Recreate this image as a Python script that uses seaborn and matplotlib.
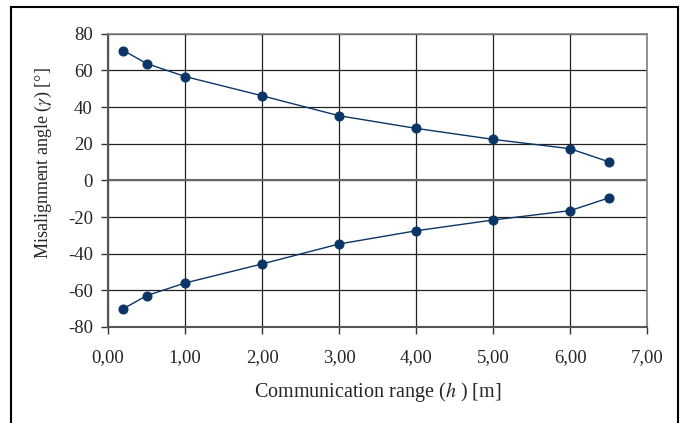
import matplotlib

matplotlib.use("Agg")

import matplotlib.pyplot as plt
import matplotlib.ticker as mticker
import pandas as pd
import seaborn as sns
from matplotlib.patches import Rectangle

# data
range_m = [0.2, 0.5, 1.0, 2.0, 3.0, 4.0, 5.0, 6.0, 6.5]
angle_upper = [70.9, 63.8, 56.7, 46.2, 35.3, 28.4, 22.4, 17.3, 10.2]
angle_lower = [-70.0, -62.9, -56.0, -45.6, -34.7, -27.5, -21.6, -16.5, -9.6]

LINE_COLOR = "#0b3566"
GRID_COLOR = "#222222"
FRAME_COLOR = "#808080"

sns.set_style("white")
plt.rcParams["font.family"] = ["Liberation Serif", "DejaVu Serif"]
plt.rcParams["mathtext.fontset"] = "stix"

df = pd.DataFrame({
    "range": range_m + range_m,
    "angle": angle_upper + angle_lower,
    "side": ["upper"] * len(range_m) + ["lower"] * len(range_m),
})

fig = plt.figure(figsize=(6.84, 4.23), dpi=100)
ax = fig.add_axes([0.158, 0.227, 0.788, 0.693])

sns.lineplot(data=df, x="range", y="angle", units="side", estimator=None,
             color=LINE_COLOR, linewidth=1.0, marker="o", markersize=6.5,
             markeredgecolor=LINE_COLOR, ax=ax, zorder=3)

ax.set_xlim(0, 7)
ax.set_ylim(-80, 80)
ax.xaxis.set_major_locator(mticker.MultipleLocator(1))
ax.yaxis.set_major_locator(mticker.MultipleLocator(20))
ax.xaxis.set_major_formatter(mticker.FuncFormatter(lambda v, _: f"{v:.2f}".replace(".", ",")))
ax.yaxis.set_major_formatter(mticker.FuncFormatter(lambda v, _: f"{v:.0f}"))

ax.grid(True, color=GRID_COLOR, linewidth=0.9)
ax.set_axisbelow(True)
for side in ["top", "right"]:
    ax.spines[side].set_color(FRAME_COLOR)
    ax.spines[side].set_linewidth(1.2)
for side in ["left", "bottom"]:
    ax.spines[side].set_color("#555555")
    ax.spines[side].set_linewidth(1.5)
ax.axhline(0, color="#666666", linewidth=1.5, zorder=1)

ax.tick_params(axis="both", direction="out", length=5, width=1, color="#333333",
               labelsize=13.5, bottom=True, left=True)
ax.tick_params(axis="y", pad=6)
ax.tick_params(axis="x", pad=11)

ax.set_xlabel("Communication range ($h$ ) [m]", fontsize=14.5)
ax.set_ylabel(r"Misalignment angle ($\gamma$) [°]", fontsize=13)
ax.xaxis.set_label_coords(0.5, -0.18)
ax.yaxis.set_label_coords(-0.1, 0.56)

fig.patches.append(Rectangle((11 / 684, -0.05), 667 / 684, 1.05 - 7 / 423,
                             transform=fig.transFigure, fill=False,
                             edgecolor="black", linewidth=1.5))

fig.savefig("out.png", dpi=100)
plt.close(fig)
